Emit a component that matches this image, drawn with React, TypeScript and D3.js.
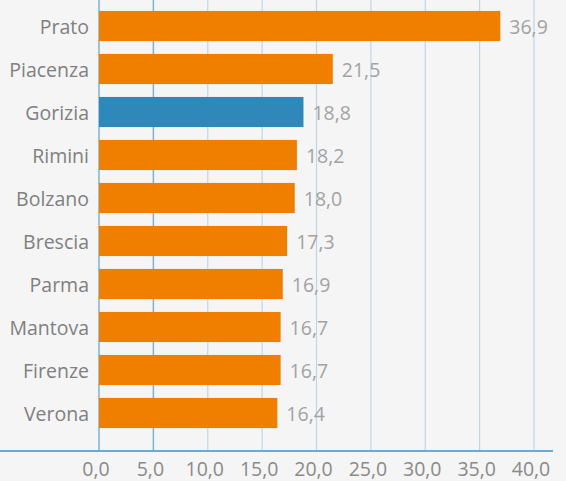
import React from "react";
import * as d3 from "d3";

const categories = ["Prato", "Piacenza", "Gorizia", "Rimini", "Bolzano", "Brescia", "Parma", "Mantova", "Firenze", "Verona"];
const values = [36.9, 21.5, 18.8, 18.2, 18.0, 17.3, 16.9, 16.7, 16.7, 16.4];
const highlighted = ["Gorizia"];
const ticks = [0, 5, 10, 15, 20, 25, 30, 35, 40];

const W = 566;
const H = 481;
const fmt = (v: number) => v.toFixed(1).replace(".", ",");
const FONT = "'Open Sans', 'Noto Sans', sans-serif";

export default function App() {
  const x = d3.scaleLinear().domain([0, 40]).range([99, 534]);
  const y = d3
    .scaleBand<string>()
    .domain(categories)
    .range([4.5, 434.5])
    .paddingInner(0.3)
    .paddingOuter(0.15);
  const axisY = 451;

  return (
    <svg
      width={W}
      height={H}
      style={{ position: "absolute", left: 0, top: 0, display: "block" }}
    >
      <rect x={0} y={0} width={W} height={H} fill="#f5f5f5" />
      {ticks.map((t, i) => (
        <line
          key={"g" + t}
          x1={x(t)}
          x2={x(t)}
          y1={0}
          y2={axisY}
          stroke={i < 2 ? "#7fb2d2" : "#bcd7ea"}
          strokeWidth={i < 2 ? 1.5 : 1.2}
        />
      ))}
      {categories.map((c, i) => {
        const yy = y(c) as number;
        const bw = y.bandwidth();
        return (
          <g key={c}>
            <rect
              x={x(0)}
              y={yy}
              width={x(values[i]) - x(0)}
              height={bw}
              fill={highlighted.includes(c) ? "#2e88b9" : "#f07f00"}
            />
            <text
              x={89}
              y={yy + bw / 2}
              textAnchor="end"
              dominantBaseline="central"
              fontFamily={FONT}
              fontSize={19.5}
              fill="#808080"
            >
              {c}
            </text>
            <text
              x={x(values[i]) + 9}
              y={yy + bw / 2}
              dominantBaseline="central"
              fontFamily={FONT}
              fontSize={19.5}
              fill="#a3a3a3"
            >
              {fmt(values[i])}
            </text>
          </g>
        );
      })}
      <line x1={0} x2={553} y1={axisY} y2={axisY} stroke="#6aaad4" strokeWidth={2} />
      {ticks.map((t) => (
        <text
          key={"t" + t}
          x={x(t) - 3}
          y={468}
          textAnchor="middle"
          dominantBaseline="central"
          fontFamily={FONT}
          fontSize={19.5}
          fill="#8a8a8a"
        >
          {fmt(t)}
        </text>
      ))}
    </svg>
  );
}
